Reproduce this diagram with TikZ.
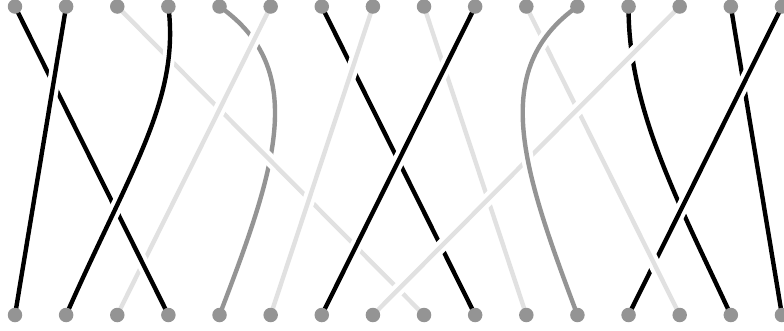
\documentclass[tikz,border=0pt]{standalone}
\definecolor{dotgray}{RGB}{148,148,148}
\definecolor{lightstrand}{RGB}{225,225,225}
\definecolor{midstrandcol}{RGB}{148,148,148}
\pgfdeclarelayer{strands}
\pgfsetlayers{strands,main}
\begin{document}
\begin{tikzpicture}[x=1pt,y=-1pt,
  dotnode/.style={circle,fill=dotgray,inner sep=0pt,minimum size=14.5pt},
  strandbase/.style={preaction={draw=white,line width=12.5pt},line width=4.4pt},
  blkstrand/.style={strandbase,draw=black},
  lgtstrand/.style={strandbase,draw=lightstrand},
  midstrand/.style={strandbase,draw=midstrandcol}]
\useasboundingbox (0,0) rectangle (784,330);
\foreach \i in {1,...,16} {
  \node[dotnode] (t\i) at ({15+51.13*(\i-1)},6.5) {};
  \node[dotnode] (b\i) at ({15+51.13*(\i-1)},315) {};
}
\begin{pgfonlayer}{strands}
\draw[midstrand] (t5.center) .. controls (310,70) and (275,170) .. (b5.center);
\draw[blkstrand] (t7.center) -- (b10.center);
\draw[lgtstrand] (t9.center) -- (b11.center);
\draw[blkstrand] (t13.center) .. controls (628,110) and (680,205) .. (b15.center);
\draw[blkstrand] (t15.center) -- (b16.center);
\draw[blkstrand] (t16.center) -- (b13.center);
\draw[lgtstrand] (t11.center) -- (b14.center);
\draw[lgtstrand] (t3.center) -- (b9.center);
\draw[lgtstrand] (t6.center) -- (b3.center);
\draw[blkstrand] (t1.center) -- (b4.center);
\draw[blkstrand] (t2.center) -- (b1.center);
\draw[blkstrand] (t4.center) .. controls (180,100) and (130,170) .. (b2.center);
\draw[lgtstrand] (t8.center) -- (b6.center);
\draw[blkstrand] (t10.center) -- (b7.center);
\draw[lgtstrand] (t14.center) -- (b8.center);
\draw[midstrand] (t12.center) .. controls (488,70) and (523,170) .. (b12.center);
\end{pgfonlayer}
\end{tikzpicture}
\end{document}
